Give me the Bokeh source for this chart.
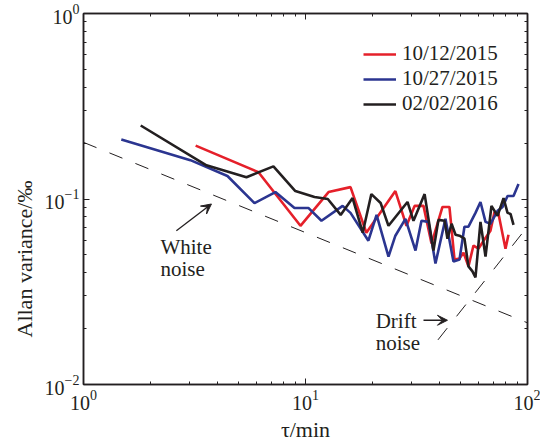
from bokeh.plotting import figure
from bokeh.models import (LogAxis, FixedTicker, Legend, LegendItem, Arrow,
                          VeeHead, CustomJSTickFormatter, Title)
from bokeh.core.properties import value
from bokeh.embed import file_html
from bokeh.resources import INLINE

# ---------------- data ----------------
tau_1012 = [3.2, 6.14, 9.49, 12.7, 15.95, 18.8, 25.4, 28.5, 31.0, 34.0, 36.95,
            41.4, 44.5, 46.9, 49.4, 51.5, 54.2, 57.1, 60.2, 63.4, 68.1, 71.0,
            74.05, 79.6, 82.1]
av_1012 = [0.194, 0.1395, 0.0717, 0.109, 0.1159, 0.0658, 0.1104, 0.0717,
           0.0918, 0.0918, 0.0575, 0.0906, 0.0906, 0.0472, 0.0477, 0.0514,
           0.0433, 0.0561, 0.054, 0.0596, 0.0674, 0.0852, 0.0831, 0.054, 0.0642]

tau_1027 = [1.48, 3.03, 4.45, 5.89, 7.32, 8.92, 10.3, 11.8, 14.7, 15.95, 19.2,
            20.9, 23.65, 25.4, 28.2, 31.3, 33.3, 35.8, 38.5, 42.7, 46.4, 49.4,
            52.0, 54.2, 58.3, 61.4, 64.7, 68.1, 73.3, 77.2, 81.3, 86.5, 91.1]
av_1027 = [0.209, 0.162, 0.133, 0.095, 0.109, 0.0895, 0.0895, 0.0763, 0.0918,
           0.0842, 0.0596, 0.0821, 0.0489, 0.0634, 0.0782, 0.0527, 0.0763,
           0.0753, 0.0449, 0.0782, 0.046, 0.0472, 0.0709, 0.0709, 0.0842,
           0.0964, 0.0753, 0.0735, 0.0863, 0.0906, 0.1038, 0.1038, 0.1203]

tau_0202 = [1.81, 3.58, 5.42, 7.17, 9.0, 10.98, 12.6, 14.4, 16.3, 18.1, 19.8,
            21.8, 23.65, 28.8, 30.65, 34.4, 37.7, 39.7, 42.3, 43.6, 45.5, 47.4,
            49.4, 52.0, 54.2, 56.5, 58.3, 61.4, 64.7, 68.8, 73.3, 78.0, 81.3,
            83.85, 86.5]
av_0202 = [0.249, 0.152, 0.131, 0.150, 0.1104, 0.1025, 0.100, 0.0821, 0.1012,
           0.0658, 0.1063, 0.0952, 0.0717, 0.0964, 0.0763, 0.1063, 0.0527,
           0.0772, 0.0763, 0.0611, 0.0735, 0.0642, 0.0634, 0.0611, 0.0433,
           0.0407, 0.0378, 0.0753, 0.0489, 0.0918, 0.0811, 0.1012, 0.0842,
           0.0831, 0.0726]

white_tau = [1.0, 100.0]
white_av = [0.202, 0.0215]
drift_tau = [39.5, 100.0]
drift_av = [0.0174, 0.071]

series_labels = ["10/12/2015", "10/27/2015", "02/02/2016"]
x_ticks = [1, 10, 100]
y_ticks = [0.01, 0.1, 1]

FONT = "Liberation Serif"
INK = "#231f20"

p = figure(width=540, height=444, x_axis_type="log", y_axis_type="log",
           x_range=(1, 100), y_range=(0.01, 1),
           output_backend="svg", toolbar_location=None,
           min_border_left=83, min_border_right=13, min_border_top=13,
           min_border_bottom=57)
p.background_fill_color = "white"
p.border_fill_color = "white"
p.outline_line_color = INK
p.outline_line_width = 1.5
p.xgrid.visible = False
p.ygrid.visible = False

x_minor = [m * d for d in (1, 10) for m in range(2, 10)]
y_minor = [m * d for d in (0.01, 0.1) for m in range(2, 10)]


def style_axis(ax, ticks, minor, labels=True):
    ax.ticker = FixedTicker(ticks=ticks, minor_ticks=minor)
    ax.axis_line_color = INK
    ax.axis_line_width = 1.5
    ax.major_tick_in = 6
    ax.major_tick_out = 0
    ax.minor_tick_in = 3
    ax.minor_tick_out = 0
    ax.major_tick_line_color = INK
    ax.minor_tick_line_color = INK
    ax.major_tick_line_width = 1
    ax.minor_tick_line_width = 1
    if labels:
        ax.major_label_text_font = FONT
        ax.major_label_text_font_size = "20px"
        ax.major_label_text_color = INK
    else:
        ax.formatter = CustomJSTickFormatter(code="return ''")
        ax.major_label_text_font_size = "2px"
        ax.major_label_standoff = 0


style_axis(p.xaxis[0], x_ticks, x_minor)
style_axis(p.yaxis[0], y_ticks, y_minor)
p.xaxis.major_label_standoff = 5
p.yaxis.major_label_standoff = 4

p.xaxis.axis_label = "τ/min"
p.xaxis.axis_label_text_font = FONT
p.xaxis.axis_label_text_font_size = "22px"
p.xaxis.axis_label_text_font_style = "normal"
p.xaxis.axis_label_text_color = INK
p.xaxis.axis_label_standoff = 4

# y title as a side title, started a little above the frame bottom
ytitle = Title(text="Allan variance/‰", align="left", offset=47,
               text_font=FONT, text_font_size="22px",
               text_font_style="normal", text_color=INK, standoff=10)
p.add_layout(ytitle, "left")

top_ax = LogAxis()
right_ax = LogAxis()
style_axis(top_ax, x_ticks, x_minor, labels=False)
style_axis(right_ax, y_ticks, y_minor, labels=False)
p.add_layout(top_ax, "above")
p.add_layout(right_ax, "right")

# reference lines
p.line(white_tau, white_av, line_color=INK, line_width=1, line_dash="14 14")
p.line(drift_tau, drift_av, line_color=INK, line_width=1, line_dash="15 15")

colors = ["#e5202a", "#2b3590", INK]
r1 = p.line(tau_1012, av_1012, line_color=colors[0], line_width=2.6)
r2 = p.line(tau_1027, av_1027, line_color=colors[1], line_width=2.6)
r3 = p.line(tau_0202, av_0202, line_color=colors[2], line_width=2.6)

legend = Legend(items=[LegendItem(label=series_labels[0], renderers=[r1]),
                       LegendItem(label=series_labels[1], renderers=[r2]),
                       LegendItem(label=series_labels[2], renderers=[r3])],
                location=(280, 268))
legend.background_fill_alpha = 0
legend.border_line_color = None
legend.label_text_font = FONT
legend.label_text_font_size = "21px"
legend.label_text_color = INK
legend.glyph_width = 33
legend.glyph_height = 20
legend.label_height = 20
legend.label_standoff = 6
legend.spacing = 0
legend.padding = 10
legend.margin = 0
p.add_layout(legend, "center")

# annotations
p.text(x=[2.22, 2.22], y=[0.0554, 0.0422], text=["White", "noise"],
       text_font=value(FONT), text_font_size="21px", text_color=INK,
       text_baseline="middle", text_align="left")
p.text(x=[20.7, 20.7], y=[0.022, 0.0168], text=["Drift", "noise"],
       text_font=value(FONT), text_font_size="21px", text_color=INK,
       text_baseline="middle", text_align="left")

p.add_layout(Arrow(x_start=2.62, y_start=0.0674, x_end=3.77, y_end=0.094,
                   line_color=INK, line_width=1.3,
                   end=VeeHead(size=10, fill_color=INK, line_color=INK)))
p.add_layout(Arrow(x_start=34.0, y_start=0.0222, x_end=43.6, y_end=0.0222,
                   line_color=INK, line_width=1.3,
                   end=VeeHead(size=10, fill_color=INK, line_color=INK)))

open("out.html", "w").write(file_html(p, INLINE))
